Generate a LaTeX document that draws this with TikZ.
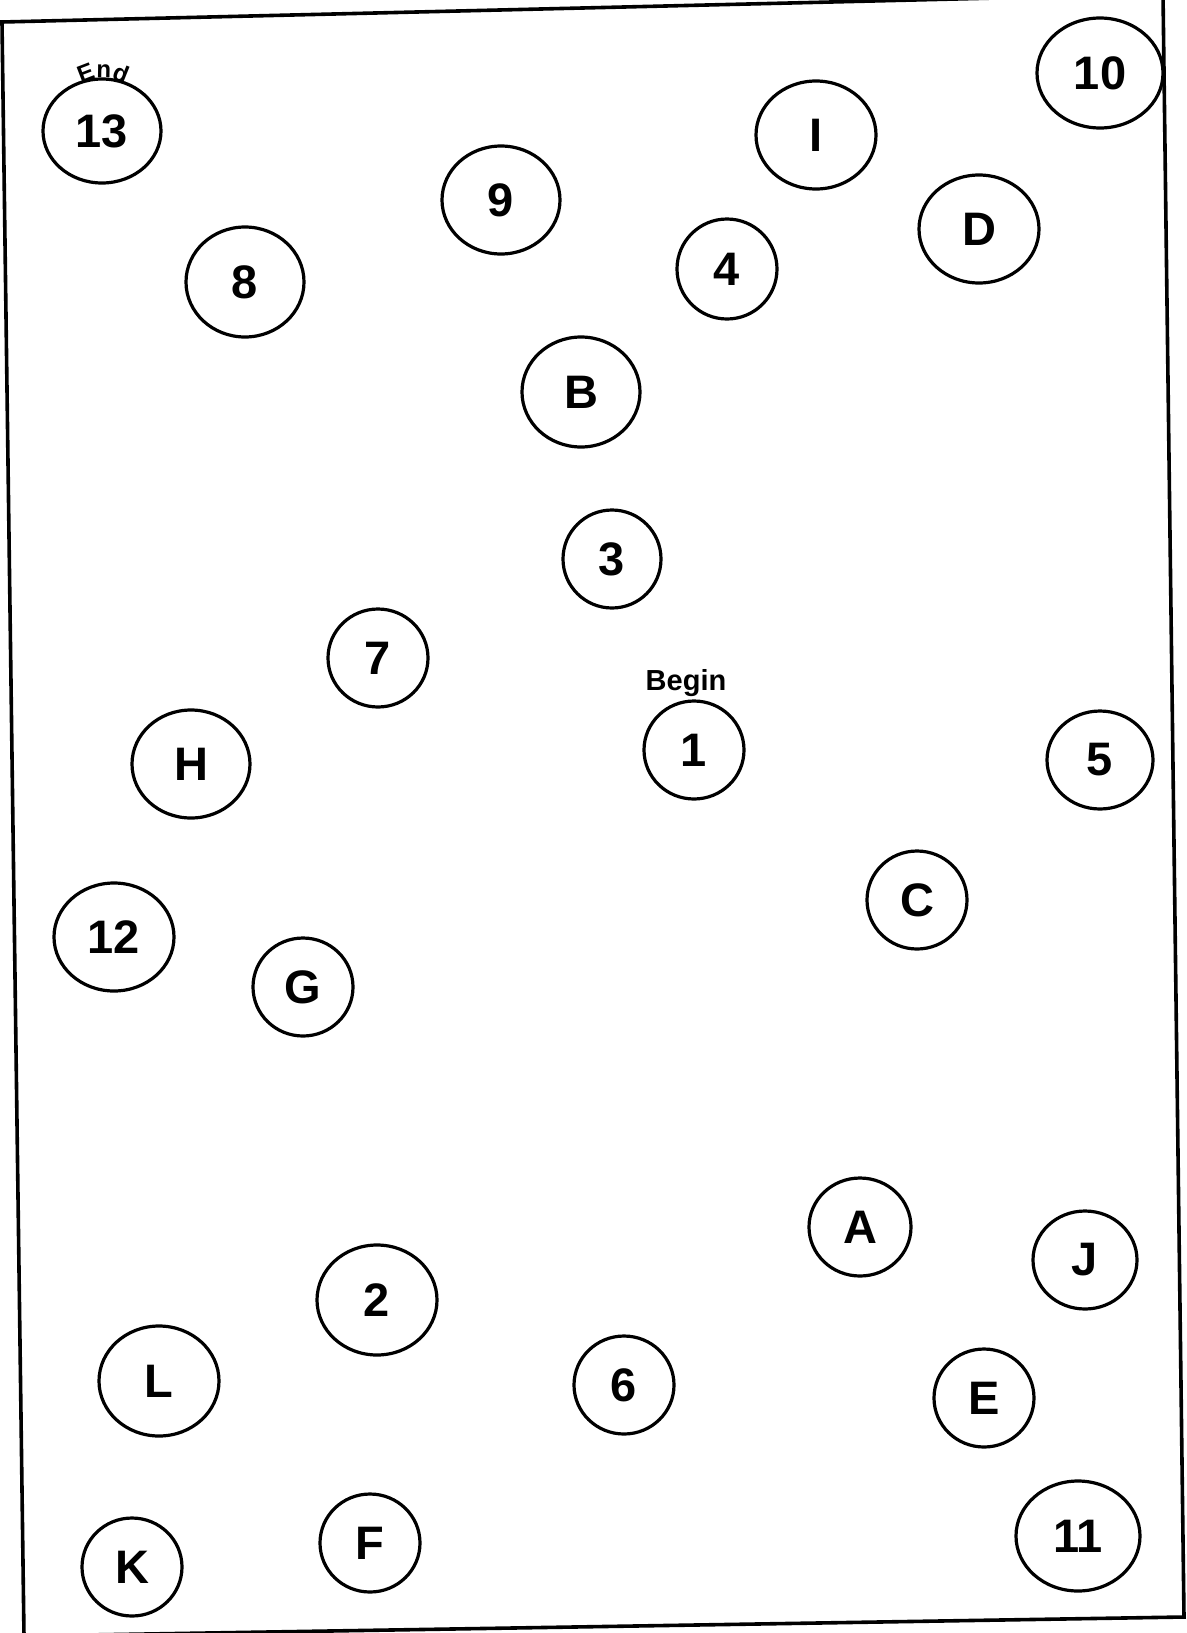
\documentclass[tikz,border=0pt]{standalone}
\usepackage{fontspec}
\setmainfont{Liberation Sans}
\usetikzlibrary{shapes.geometric,decorations.text,calc}
\tikzset{
  tm/.style={ellipse, draw, line width=3.2pt, inner sep=0pt,
    font=\fontsize{47}{47}\selectfont\bfseries},
  frame/.style={line width=3.6pt},
  lbl/.style={inner sep=0pt, font=\fontsize{29}{29}\selectfont\bfseries},
  arclabel/.style={decorate, decoration={text along path, text align=center,
    text format delimiters={|}{|}}}
}
\newcommand{\tmnode}[6]{\node[tm, minimum width=#4, minimum height=#5] (#1) at (#2,#3) {#6};}
\begin{document}
\begin{tikzpicture}[x=1pt,y=-1pt]
\useasboundingbox (0,0) rectangle (1186,1633);
\fill[white] (0,0) rectangle (1186,1633);
\begin{scope}
\clip (0,0) rectangle (1186,1633);
\draw[frame] (2,22) -- (1163,-6) -- (1184,1617) -- (24,1636) -- cycle;
\end{scope}
\tmnode{n13}{102}{131}{118}{104}{13}
\tmnode{n10}{1100}{73}{126}{110}{10}
\tmnode{nI}{816}{135}{120}{108}{I}
\tmnode{n9}{501}{200}{118}{108}{9}
\tmnode{nD}{979}{229}{120}{108}{D}
\tmnode{n8}{245}{282}{118}{110}{8}
\tmnode{n4}{727}{269}{100}{100}{4}
\tmnode{nB}{581}{392}{118}{110}{B}
\tmnode{n3}{612}{559}{98}{98}{3}
\tmnode{n7}{378}{658}{100}{98}{7}
\tmnode{n1}{694}{750}{100}{98}{1}
\tmnode{nH}{191}{764}{118}{108}{H}
\tmnode{n5}{1100}{760}{106}{98}{5}
\tmnode{nC}{917}{900}{100}{98}{C}
\tmnode{n12}{114}{937}{120}{108}{12}
\tmnode{nG}{303}{987}{100}{98}{G}
\tmnode{nA}{860}{1227}{102}{98}{A}
\tmnode{nJ}{1085}{1260}{104}{98}{J}
\tmnode{n2}{377}{1300}{120}{110}{2}
\tmnode{nL}{159}{1381}{120}{110}{L}
\tmnode{n6}{624}{1385}{100}{98}{6}
\tmnode{nE}{984}{1398}{100}{98}{E}
\tmnode{n11}{1078}{1536}{124}{110}{11}
\tmnode{nK}{132}{1567}{100}{98}{K}
\tmnode{nF}{370}{1543}{100}{98}{F}
% labels
\node[lbl, anchor=south] (begin) at ($(n1.north)+(-8,-3)$) {Begin};
\coordinate (ec) at (103,118);
\path[arclabel, decoration={text={|\fontsize{24}{24}\selectfont\bfseries|End}}]
  ($(ec)+(-130:40)$) arc[start angle=-130, end angle=-50, radius=40];
\end{tikzpicture}
\end{document}
